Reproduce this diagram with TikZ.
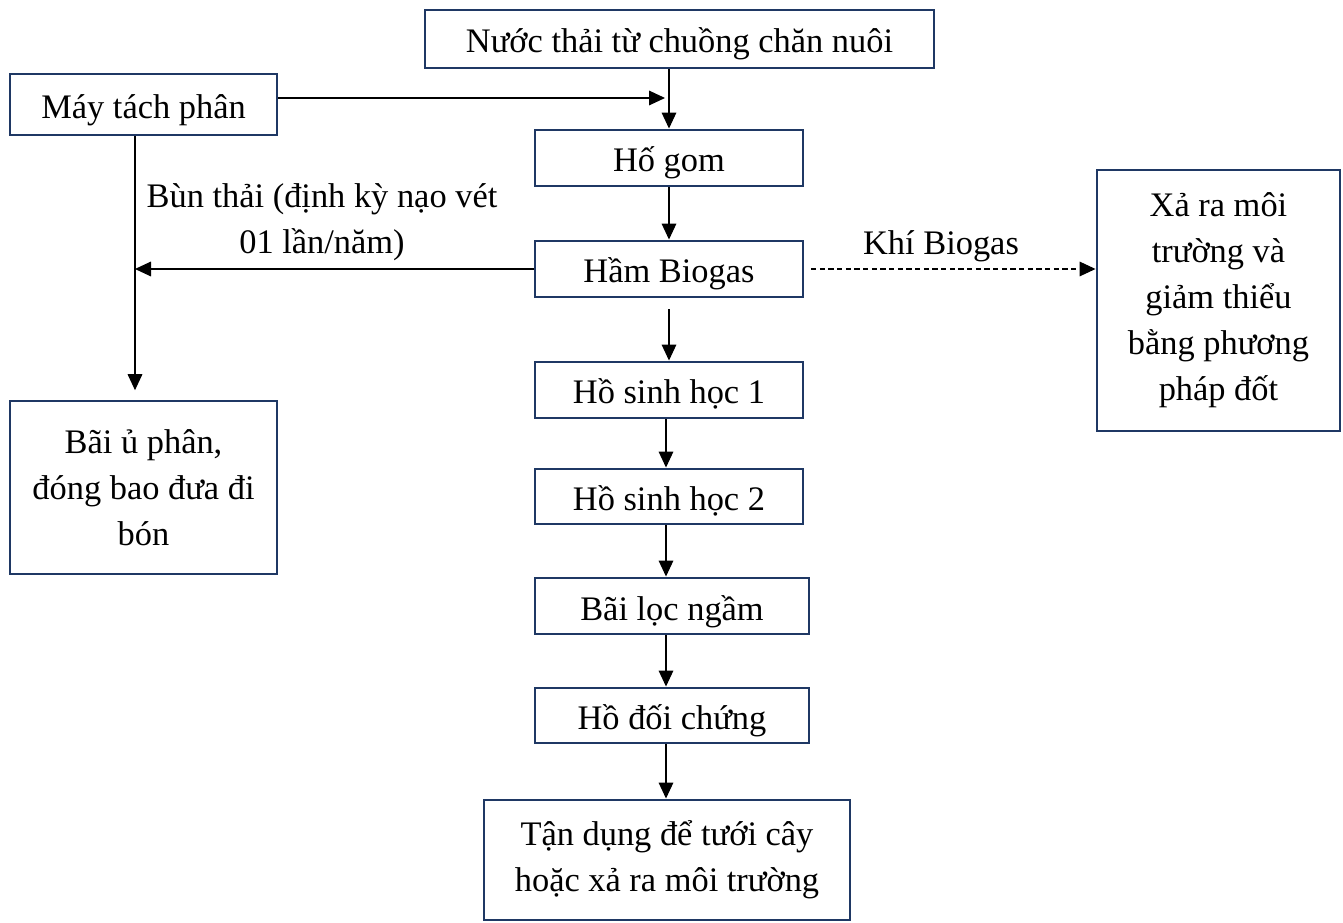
\documentclass[tikz,border=0pt]{standalone}
\usepackage{fontspec}
\setmainfont{Liberation Serif}
\usetikzlibrary{arrows.meta,calc}
\definecolor{boxnavy}{RGB}{31,56,100}
\begin{document}
\begin{tikzpicture}[x=0.75pt,y=-0.75pt,
  every node/.style={font=\fontsize{25.8}{34.5}\selectfont},
  box/.style={draw=boxnavy,line width=2.2pt,inner sep=0pt,align=center,anchor=center},
  one/.style={box,text height=27pt,text depth=6pt},
  arr/.style={line width=0.9pt,-{Triangle[length=12pt,width=11pt]}},
  lbl/.style={inner sep=0pt,align=center}]
\useasboundingbox (0,0) rectangle (1343,923);
% boxes
\node[one,minimum width=509*0.75pt,minimum height=58*0.75pt] (nuoc) at (679.5,39) {Nước thải từ chuồng chăn nuôi};
\node[one,minimum width=267*0.75pt,minimum height=61*0.75pt] (may) at (143.5,104.5) {Máy tách phân};
\node[one,minimum width=268*0.75pt,minimum height=56*0.75pt] (hogom) at (669,158) {Hố gom};
\node[one,minimum width=268*0.75pt,minimum height=56*0.75pt] (ham) at (669,269) {Hầm Biogas};
\node[box,minimum width=243*0.75pt,minimum height=261*0.75pt] (xa) at (1218.5,300.5) {Xả ra môi\\trường và\\giảm thiểu\\bằng phương\\pháp đốt};
\node[one,minimum width=268*0.75pt,minimum height=56*0.75pt] (hsh1) at (669,390) {Hồ sinh học 1};
\node[one,minimum width=268*0.75pt,minimum height=55*0.75pt] (hsh2) at (669,496.5) {Hồ sinh học 2};
\node[one,minimum width=274*0.75pt,minimum height=56*0.75pt] (loc) at (672,606) {Bãi lọc ngầm};
\node[one,minimum width=274*0.75pt,minimum height=55*0.75pt] (doi) at (672,715.5) {Hồ đối chứng};
\node[box,minimum width=366*0.75pt,minimum height=120*0.75pt] (tan) at (667,860) {Tận dụng để tưới cây\\hoặc xả ra môi trường};
\node[box,minimum width=267*0.75pt,minimum height=173*0.75pt] (bai) at (143.5,487.5) {Bãi ủ phân,\\đóng bao đưa đi\\bón};
% labels
\node[lbl] (bun) at (322,222) {Bùn thải (định kỳ nạo vét\\01 lần/năm)};
\node[lbl] (khi) at (941,246) {Khí Biogas};
% helper coordinates
\coordinate (j1) at (665,98);
\coordinate (j2) at (135,269);
\coordinate (cx) at (669,0);
\coordinate (cl) at (666,0);
% connectors
\draw[arr] (nuoc.south -| cx) -- (hogom.north -| cx);
\draw[arr] (may.east |- j1) -- (j1);
\draw[arr] (hogom.south -| cx) -- (ham.north -| cx);
\draw[arr] (ham.west) -- (j2);
\draw[arr] (may.south -| j2) -- ([yshift=7pt]bai.north -| j2);
\draw[arr,dashed,dash pattern=on 4pt off 2.5pt] ([xshift=5pt]ham.east) -- (xa.west |- ham.east);
\draw[arr] ([yshift=-8pt]ham.south -| cx) -- (hsh1.north -| cx);
\draw[arr] (hsh1.south -| cl) -- (hsh2.north -| cl);
\draw[arr] (hsh2.south -| cl) -- (loc.north -| cl);
\draw[arr] (loc.south -| cl) -- (doi.north -| cl);
\draw[arr] (doi.south -| cl) -- (tan.north -| cl);
\end{tikzpicture}
\end{document}
